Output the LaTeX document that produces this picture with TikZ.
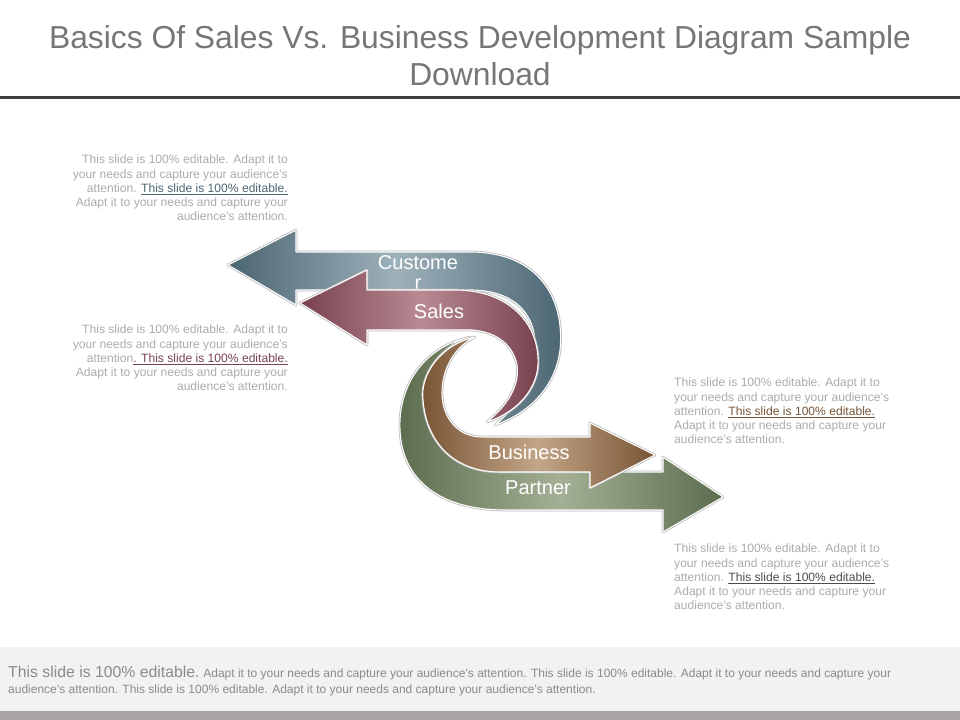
\documentclass[tikz,border=0pt]{standalone}
\usepackage{fontspec}
\setmainfont{Liberation Sans}
\definecolor{titlegray}{HTML}{767676}
\definecolor{rulegray}{HTML}{404040}
\definecolor{notegray}{HTML}{ABABAB}
\definecolor{footgray}{HTML}{8A8A8A}
\definecolor{footback}{HTML}{F2F2F2}
\definecolor{footbar}{HTML}{A9A5A5}
\definecolor{custdark}{HTML}{4B6572}
\definecolor{custlight}{HTML}{9DB1BA}
\definecolor{salesdark}{HTML}{77414D}
\definecolor{saleslight}{HTML}{B88A94}
\definecolor{busdark}{HTML}{775434}
\definecolor{buslight}{HTML}{C3A688}
\definecolor{partdark}{HTML}{5C6C4E}
\definecolor{partlight}{HTML}{A3B095}
\begin{document}
\begin{tikzpicture}[>=latex,line join=round,
  band/.style={preaction={draw=black!28,line width=2.6bp},draw=white,line width=1.1bp},
  label/.style={text=white,align=center,inner sep=0pt,font=\fontsize{20bp}{20bp}\selectfont},
  note/.style={text=notegray,inner sep=0pt,font=\fontsize{12.1bp}{14.2bp}\selectfont},
  foot/.style={text=footgray,inner sep=0pt,anchor=base west},
]
%%
\useasboundingbox (0bp,0bp) rectangle (960bp,720bp);
\node (title) at (480bp,664bp) [align=center,text=titlegray,font=\fontsize{31.8bp}{37bp}\selectfont] {Basics Of Sales Vs. Business Development Diagram Sample\\Download};
\draw [rulegray,line width=3bp] (0bp,622bp) -- (960bp,622bp);
%
\path [band,left color=custdark,right color=custdark,middle color=custlight] (228bp,455bp) -- (296bp,490bp) -- (296bp,468bp) -- (470bp,468bp)
  .. controls (540bp,468bp) and (565bp,420bp) .. (560bp,370bp)
  .. controls (555bp,330bp) and (525bp,305bp) .. (495bp,295bp)
  .. controls (520bp,315bp) and (535bp,345bp) .. (535bp,375bp)
  .. controls (535bp,410bp) and (510bp,430bp) .. (470bp,430bp)
  -- (296bp,430bp) -- (296bp,415bp) -- cycle;
\node (label_0) at (418bp,447bp) [label] {Custome\\r};
\path [band,left color=salesdark,right color=salesdark,middle color=saleslight] (300bp,417bp) -- (367bp,450bp) -- (367bp,430bp) -- (455bp,430bp)
  .. controls (510bp,430bp) and (540bp,395bp) .. (538bp,355bp)
  .. controls (536bp,325bp) and (510bp,305bp) .. (487bp,298bp)
  .. controls (508bp,315bp) and (520bp,335bp) .. (517bp,355bp)
  .. controls (513bp,375bp) and (497bp,388bp) .. (472bp,390bp)
  -- (367bp,390bp) -- (367bp,375bp) -- cycle;
\node (label_1) at (439bp,409bp) [label] {Sales};
%
\path [band,left color=partdark,right color=partdark,middle color=partlight] (470bp,383bp)
  .. controls (420bp,372bp) and (398bp,330bp) .. (400bp,290bp)
  .. controls (402bp,240bp) and (440bp,210bp) .. (505bp,210bp)
  -- (663bp,210bp) -- (663bp,188bp) -- (723bp,223bp) -- (663bp,263bp) -- (663bp,248bp) -- (500bp,248bp)
  .. controls (452bp,248bp) and (426bp,280bp) .. (423bp,320bp)
  .. controls (420bp,345bp) and (440bp,375bp) .. (470bp,383bp) -- cycle;
\path [band,left color=busdark,right color=busdark,middle color=buslight] (475bp,383bp)
  .. controls (440bp,375bp) and (420bp,345bp) .. (423bp,320bp)
  .. controls (426bp,280bp) and (452bp,248bp) .. (500bp,248bp)
  -- (590bp,248bp) -- (590bp,232bp) -- (655bp,265bp) -- (590bp,297bp) -- (590bp,283bp) -- (482bp,283bp)
  .. controls (458bp,283bp) and (442bp,302bp) .. (442bp,327bp)
  .. controls (442bp,355bp) and (458bp,375bp) .. (475bp,383bp) -- cycle;
\node (label_2) at (529bp,268bp) [label] {Business};
\node (label_3) at (538bp,232bp) [label] {Partner};
%
\node (note_0) at (288bp,532bp) [note,anchor=east,align=right] {This slide is 100\% editable. Adapt it to\\your needs and capture your audience’s\\attention. {\color{custdark}\underline{This slide is 100\% editable.}}\\Adapt it to your needs and capture your\\audience’s attention.};
\node (note_1) at (288bp,362bp) [note,anchor=east,align=right] {This slide is 100\% editable. Adapt it to\\your needs and capture your audience’s\\attention{\color{salesdark}\underline{. This slide is 100\% editable.}}\\Adapt it to your needs and capture your\\audience’s attention.};
\node (note_2) at (674bp,309bp) [note,anchor=west,align=left] {This slide is 100\% editable. Adapt it to\\your needs and capture your audience’s\\attention. {\color{busdark}\underline{This slide is 100\% editable.}}\\Adapt it to your needs and capture your\\audience’s attention.};
\node (note_3) at (674bp,143bp) [note,anchor=west,align=left] {This slide is 100\% editable. Adapt it to\\your needs and capture your audience’s\\attention. {\color{black!70}\underline{This slide is 100\% editable.}}\\Adapt it to your needs and capture your\\audience’s attention.};
%
\fill [footback] (0bp,9bp) rectangle (960bp,73bp);
\fill [footbar] (0bp,0bp) rectangle (960bp,9bp);
\node (foot_0) at (8bp,42bp) [foot] {{\fontsize{15.8bp}{16bp}\selectfont This slide is 100\% editable.} {\fontsize{12bp}{14bp}\selectfont Adapt it to your needs and capture your audience’s attention. This slide is 100\% editable. Adapt it to your needs and capture your}};
\node (foot_1) at (8bp,27bp) [foot,font=\fontsize{12bp}{14bp}\selectfont] {audience’s attention. This slide is 100\% editable. Adapt it to your needs and capture your audience’s attention.};
%
\end{tikzpicture}
\end{document}
